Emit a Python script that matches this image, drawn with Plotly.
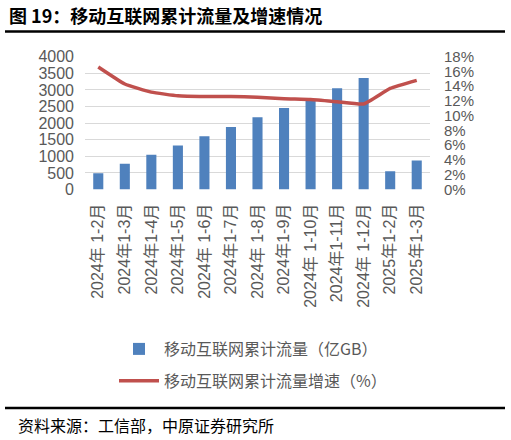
import plotly.graph_objects as go

W, H = 511, 440

# 月份区间标签
months = ['2024年 1-2月', '2024年1-3月', '2024年1-4月', '2024年1-5月', '2024年 1-6月',
          '2024年1-7月', '2024年 1-8月', '2024年1-9月', '2024年 1-10月', '2024年1-11月',
          '2024年 1-12月', '2025年1-2月', '2025年1-3月']
# 移动互联网累计流量（亿GB）
traffic = [490, 772, 1043, 1324, 1605, 1886, 2177, 2457, 2718, 3049, 3360, 552, 873]
# 累计流量增速（%）
growth = [16.6, 14.3, 13.2, 12.7, 12.6, 12.6, 12.5, 12.3, 12.2, 11.9, 11.6, 13.7, 14.8]

FONT = 'Liberation Sans, Noto Sans CJK SC'
CJK = 'Noto Sans CJK SC'
GRAY = '#595959'


def px_x(v):
    return v / W


def px_y(v):
    return 1 - v / H


fig = go.Figure()
fig.add_trace(go.Bar(x=months, y=traffic, name='移动互联网累计流量（亿GB）',
                     marker=dict(color='#4F81BD', line=dict(width=0)),
                     width=0.38, legendgroup='a'))
fig.add_trace(go.Scatter(x=months, y=growth, name='移动互联网累计流量增速（%）',
                         mode='lines', yaxis='y2',
                         line=dict(color='#C0504D', width=3.5, shape='spline', smoothing=0.4),
                         legendgroup='b'))

fig.update_layout(
    width=W, height=H,
    margin=dict(l=0, r=0, t=0, b=0, autoexpand=False),
    paper_bgcolor='white', plot_bgcolor='white',
    font=dict(family=FONT, color=GRAY),
    xaxis=dict(domain=[px_x(85), px_x(430)], tickangle=-90, automargin=False,
               tickfont=dict(size=16, color=GRAY), showgrid=False,
               showline=False, ticks='', ticklabelstandoff=10),
    yaxis=dict(domain=[px_y(189.5), px_y(56.7)], range=[0, 4000], dtick=500,
               showgrid=True, gridcolor='#d9d9d9', gridwidth=1.2, automargin=False,
               tickfont=dict(size=16, color=GRAY), zeroline=False, ticks='',
               ticklabelstandoff=10),
    yaxis2=dict(overlaying='y', side='right', range=[0, 18], dtick=2, automargin=False,
                ticksuffix='%', showgrid=False, zeroline=False,
                tickfont=dict(size=15, color=GRAY), ticks='', ticklabelstandoff=13),
    showlegend=True,
    legend=dict(x=px_x(114), y=px_y(332), xanchor='left', yanchor='top',
                traceorder='grouped', tracegroupgap=8, itemwidth=40,
                font=dict(size=16, color=GRAY, family=CJK), bgcolor='rgba(0,0,0,0)'),
)

fig.add_annotation(text='<b>图 19：移动互联网累计流量及增速情况</b>',
                   xref='paper', yref='paper', x=px_x(7), y=px_y(15),
                   xanchor='left', yanchor='middle', showarrow=False,
                   font=dict(size=18, color='black', family=CJK))
fig.add_annotation(text='资料来源：工信部，中原证券研究所',
                   xref='paper', yref='paper', x=px_x(16), y=px_y(425),
                   xanchor='left', yanchor='middle', showarrow=False,
                   font=dict(size=16, color='black', family=CJK))

fig.add_shape(type='line', xref='paper', yref='paper',
              x0=px_x(5), x1=px_x(505), y0=px_y(31.5), y1=px_y(31.5),
              line=dict(color='black', width=2.5))
fig.add_shape(type='line', xref='paper', yref='paper',
              x0=px_x(5), x1=px_x(505), y0=px_y(408), y1=px_y(408),
              line=dict(color='black', width=2.5))

# 去掉页面默认边距，让图表贴齐窗口左上角
fig.write_html('out.html', config={'displayModeBar': False},
               post_script="document.body.style.margin='0';")
